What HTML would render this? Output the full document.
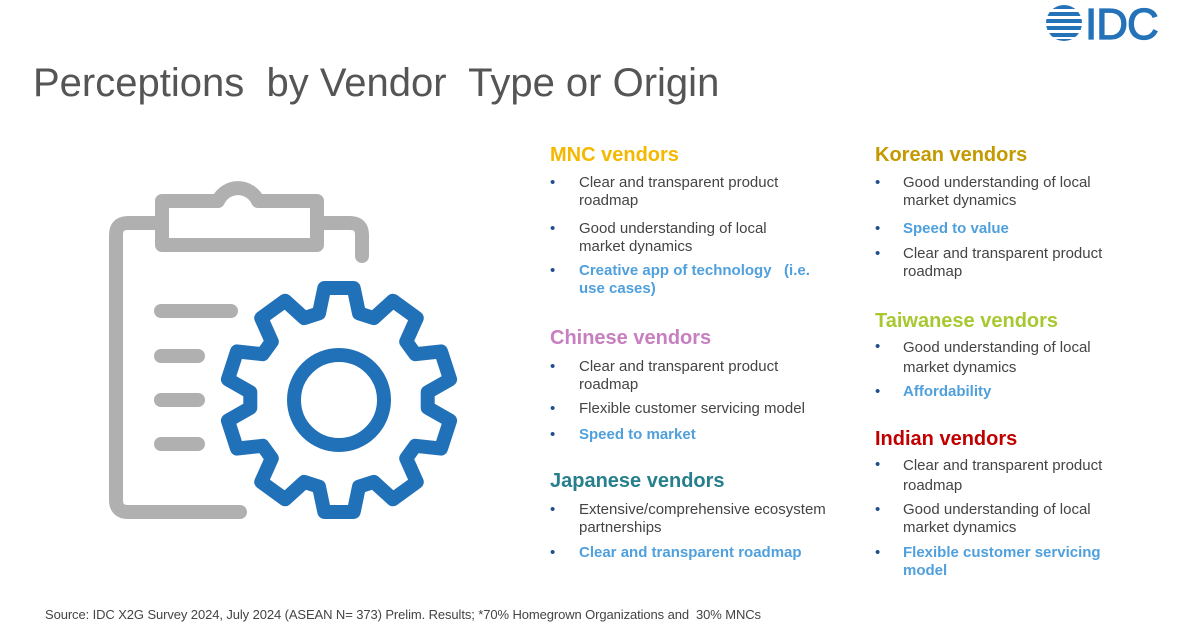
<!DOCTYPE html>
<html><head><meta charset="utf-8"><style>
body{margin:0;width:1200px;height:628px;background:#fff;position:relative;overflow:hidden;font-family:"Liberation Sans",Arial,sans-serif;}
.t{position:absolute;font-size:15px;line-height:17.5px;color:#444;white-space:nowrap}
.b{position:absolute;font-size:15px;line-height:17.5px;color:#1f4e8c}
.h{position:absolute;font-size:20px;font-weight:bold;line-height:22px;white-space:nowrap}
.hl{color:#4fa0dc;font-weight:bold}
</style></head><body>
<div style="position:absolute;left:33px;top:61px;font-size:40px;color:#555;white-space:nowrap">Perceptions&nbsp; by Vendor&nbsp; Type or Origin</div>
<svg style="position:absolute;left:1040px;top:0" width="130" height="48">
<clipPath id="c"><circle cx="24" cy="23" r="18"/></clipPath>
<g clip-path="url(#c)" fill="#2472b8">
<rect x="0" y="5" width="50" height="4"/><rect x="0" y="12" width="50" height="4"/><rect x="0" y="19" width="50" height="4"/><rect x="0" y="26" width="50" height="4"/><rect x="0" y="33" width="50" height="4"/><rect x="0" y="39" width="50" height="4"/>
</g>
<text x="45" y="39" font-family="Liberation Sans" font-size="44" fill="#2472b8" stroke="#2472b8" stroke-width="1.2" letter-spacing="-1">IDC</text>
</svg>
<svg style="position:absolute;left:0;top:0" width="520" height="560">
<g fill="none" stroke="#b0b0b0" stroke-width="14" stroke-linecap="round" stroke-linejoin="round">
<path d="M240 512 H128 Q116 512 116 500 V235 Q116 223 128 223 H162"/>
<path d="M317 223 H350 Q362 223 362 235 V256"/>
<path d="M162 201 H218 A22 22 0 0 1 258 201 H317 V245 H162 Z"/>
<path d="M161 311 H231 M161 356 H198 M161 400 H198 M161 444 H198"/>
</g>
<path id="g" fill="none" stroke="#2171b8" stroke-width="14" stroke-linejoin="round"/>
<circle cx="339" cy="400" r="45" fill="none" stroke="#2171b8" stroke-width="14"/>
</svg>
<script>
(function(){var cx=339,cy=400,ro=113,ri=89,n=10,d='';
for(var i=0;i<n;i++){var a=-Math.PI/2+i*2*Math.PI/n,s=Math.PI/180;
var pts=[[ri,a-13*s],[ro,a-7.5*s],[ro,a+7.5*s],[ri,a+13*s],[ri,a+23*s]];
pts.forEach(function(p,j){var x=cx+p[0]*Math.cos(p[1]),y=cy+p[0]*Math.sin(p[1]);d+=(i==0&&j==0?'M':'L')+x.toFixed(1)+' '+y.toFixed(1)+' ';});}
document.getElementById('g').setAttribute('d',d+'Z');})();
</script>

<div class="h" style="left:550px;top:144px;color:#f5b800">MNC vendors</div>
<div class="b" style="left:550px;top:174px">•</div><div class="t" style="left:579px;top:174px">Clear and transparent product<br>roadmap</div>
<div class="b" style="left:550px;top:220px">•</div><div class="t" style="left:579px;top:220px">Good understanding of local<br>market dynamics</div>
<div class="b" style="left:550px;top:262px">•</div><div class="t hl" style="left:579px;top:262px">Creative app of technology&nbsp;&nbsp; (i.e.<br>use cases)</div>

<div class="h" style="left:550px;top:327px;color:#c77fc0">Chinese vendors</div>
<div class="b" style="left:550px;top:358px">•</div><div class="t" style="left:579px;top:358px">Clear and transparent product<br>roadmap</div>
<div class="b" style="left:550px;top:400px">•</div><div class="t" style="left:579px;top:400px">Flexible customer servicing model</div>
<div class="b" style="left:550px;top:426px">•</div><div class="t hl" style="left:579px;top:426px">Speed to market</div>

<div class="h" style="left:550px;top:470px;color:#267f8c">Japanese vendors</div>
<div class="b" style="left:550px;top:501px">•</div><div class="t" style="left:579px;top:501px">Extensive/comprehensive ecosystem<br>partnerships</div>
<div class="b" style="left:550px;top:544px">•</div><div class="t hl" style="left:579px;top:544px">Clear and transparent roadmap</div>

<div class="h" style="left:875px;top:144px;color:#c49a00">Korean vendors</div>
<div class="b" style="left:875px;top:174px">•</div><div class="t" style="left:903px;top:174px">Good understanding of local<br>market dynamics</div>
<div class="b" style="left:875px;top:220px">•</div><div class="t hl" style="left:903px;top:220px">Speed to value</div>
<div class="b" style="left:875px;top:245px">•</div><div class="t" style="left:903px;top:245px">Clear and transparent product<br>roadmap</div>

<div class="h" style="left:875px;top:310px;color:#a8c832">Taiwanese vendors</div>
<div class="b" style="left:875px;top:338px">•</div><div class="t" style="left:903px;top:338px;line-height:20px">Good understanding of local<br>market dynamics</div>
<div class="b" style="left:875px;top:383px">•</div><div class="t hl" style="left:903px;top:383px">Affordability</div>

<div class="h" style="left:875px;top:428px;color:#c00000">Indian vendors</div>
<div class="b" style="left:875px;top:456px">•</div><div class="t" style="left:903px;top:456px;line-height:20px">Clear and transparent product<br>roadmap</div>
<div class="b" style="left:875px;top:501px">•</div><div class="t" style="left:903px;top:501px">Good understanding of local<br>market dynamics</div>
<div class="b" style="left:875px;top:544px">•</div><div class="t hl" style="left:903px;top:544px">Flexible customer servicing<br>model</div>

<div style="position:absolute;left:45px;top:607px;font-size:13px;letter-spacing:-0.1px;color:#444;white-space:nowrap">Source: IDC X2G Survey 2024, July 2024 (ASEAN N= 373) Prelim. Results; *70% Homegrown Organizations and&nbsp; 30% MNCs</div>
</body></html>
